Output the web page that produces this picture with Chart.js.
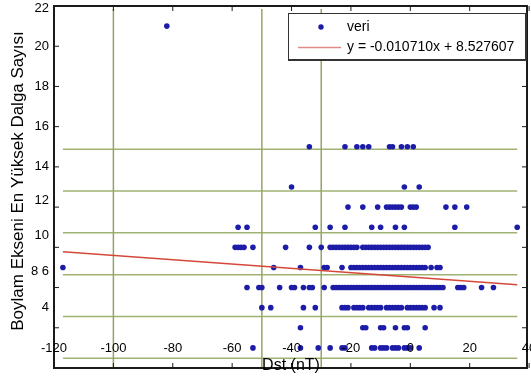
<!DOCTYPE html>
<html>
<head>
<meta charset="utf-8">
<script src="https://cdn.jsdelivr.net/npm/chart.js@4"></script>
<style>
  html, body { margin: 0; padding: 0; background: #fff; }
</style>
</head>
<body>
<canvas id="dalgaGrafik" width="531" height="381"></canvas>
<script>
// dalga sayısı seviyeleri ve her seviyedeki Dst (nT) değerleri
const dalgaSayilari = [21, 15, 13, 12, 11, 10, 9, 8, 7, 6, 5];
const dstDegerleri = [
  [-82],
  [-34, -22, -18, -16, -14, -7, -6, -3, -1, 1],
  [-40, -2, 3],
  [-21, -16, -11, -8, -7, -6, -5, -4, -3, 0, 1, 2, 12, 15, 19],
  [-58, -55, -32, -27, -22, -13, -10, -5, -2, 15, 36],
  [-59, -58, -57, -56, -53, -42, -34, -30, -27, -26, -25, -24, -23, -22, -21, -20, -19, -18, -16, -15, -14, -13, -12, -11, -10, -9, -8, -7, -6, -5, -4, -3, -2, -1, 0, 1, 2, 3, 4, 5, 6],
  [-117, -46, -37, -29, -28, -23, -20, -19, -18, -17, -16, -15, -14, -13, -12, -11, -10, -9, -8, -7, -6, -5, -4, -3, -2, -1, 0, 1, 2, 3, 4, 5, 7, 9, 10],
  [-55, -51, -50, -44, -40, -39, -36, -34, -33, -29, -26, -25, -24, -23, -22, -21, -20, -19, -18, -17, -16, -15, -14, -13, -12, -11, -10, -9, -8, -7, -6, -5, -4, -3, -2, -1, 0, 1, 2, 3, 4, 5, 6, 7, 8, 9, 10, 11, 16, 17, 18, 24, 28],
  [-50, -47, -36, -32, -23, -22, -21, -19, -18, -17, -16, -14, -13, -12, -11, -10, -8, -7, -6, -5, -4, -3, -1, 0, 1, 2, 3, 4, 5, 8, 10],
  [-37, -16, -15, -10, -9, -5, -2, -1, 5],
  [-53, -37, -31, -27, -23, -22, -13, -12, -10, -9, -8, -6, -5, -4, -2, -1, 0, 3]
];

// doğrusal uydurma: y = a*x + b
const egim = -0.010710;
const kesisim = 8.527607;

// eksen etiketleri
const xEtiketleri = [-120, -100, -80, -60, -40, -20, 0, 20, 40];
const yEtiketleri = ['22', '20', '18', '16', '14', '12', '10', '8 6', '4'];
const yEtiketYerleri = [21.9, 20, 18, 16, 14, 12.35, 10.6, 8.8, 7.0];

// yeşil ızgara çizgileri (veri biriminde)
const izgaraX = [-100, -50, -30];
const izgaraY = [14.88, 12.8, 10.72, 8.64, 6.56, 4.48];

const noktalar = [];
dalgaSayilari.forEach((d, i) => {
  dstDegerleri[i].forEach(x => noktalar.push({ x: x, y: d }));
});
const tumDst = noktalar.map(p => p.x);
const xMin = Math.min(...tumDst);
const xMax = Math.max(...tumDst);

const yaziTipi = '"Liberation Sans", Arial, sans-serif';

function cizgi(ctx, x1, y1, x2, y2) {
  ctx.beginPath();
  ctx.moveTo(x1, y1);
  ctx.lineTo(x2, y2);
  ctx.stroke();
}

const eksenCizimi = {
  id: 'eksenCizimi',
  beforeDatasetsDraw(chart) {
    const { ctx, scales: { x, y } } = chart;
    ctx.save();
    ctx.strokeStyle = '#a0b272';
    ctx.lineWidth = 1.5;
    izgaraY.forEach(v => {
      const py = y.getPixelForValue(v);
      cizgi(ctx, x.getPixelForValue(xMin), py, x.getPixelForValue(xMax), py);
    });
    ctx.strokeStyle = '#93a563';
    izgaraX.forEach(v => {
      const px = x.getPixelForValue(v);
      cizgi(ctx, px, y.getPixelForValue(21.85), px, y.bottom);
    });
    ctx.restore();
  },
  afterDatasetsDraw(chart) {
    const { ctx, chartArea: a, scales: { x, y } } = chart;
    ctx.save();

    // çerçeve
    ctx.strokeStyle = '#1a1a1a';
    ctx.lineWidth = 2;
    ctx.strokeRect(a.left, a.top, a.right - a.left, a.bottom - a.top);

    // tik işaretleri
    ctx.lineWidth = 1;
    for (let v = 4; v <= 22; v += 2) {
      const py = y.getPixelForValue(v);
      cizgi(ctx, a.left, py, a.left + 5, py);
      cizgi(ctx, a.right, py, a.right - 5, py);
    }
    xEtiketleri.forEach(v => {
      const px = x.getPixelForValue(v);
      cizgi(ctx, px, a.top, px, a.top + 5);
      cizgi(ctx, px, a.bottom, px, a.bottom - 5);
    });

    // tik yazıları
    ctx.fillStyle = '#000';
    ctx.font = '13px ' + yaziTipi;
    ctx.textBaseline = 'middle';
    ctx.textAlign = 'right';
    yEtiketleri.forEach((t, i) => {
      ctx.fillText(t, a.left - 5, y.getPixelForValue(yEtiketYerleri[i]));
    });
    ctx.textAlign = 'center';
    xEtiketleri.forEach(v => {
      ctx.fillText(String(v), x.getPixelForValue(v), a.bottom - 20);
    });

    // eksen başlıkları
    ctx.font = '16px ' + yaziTipi;
    ctx.fillText('Dst (nT)', 291, a.bottom - 2);
    ctx.save();
    ctx.translate(18, 181);
    ctx.rotate(-Math.PI / 2);
    ctx.font = '17px ' + yaziTipi;
    ctx.fillText('Boylam Ekseni En Yüksek Dalga Sayısı', 0, 0);
    ctx.restore();

    // açıklama kutusu
    const ds = chart.data.datasets;
    ctx.fillStyle = '#fff';
    ctx.fillRect(288, 13, 238, 47);
    ctx.strokeStyle = '#333';
    ctx.lineWidth = 1;
    ctx.strokeRect(288.5, 13.5, 237, 46);
    ctx.lineWidth = 2;
    cizgi(ctx, 526, 13, 526, 61);
    cizgi(ctx, 288, 60, 527, 60);

    ctx.fillStyle = ds[0].backgroundColor;
    ctx.beginPath();
    ctx.arc(321, 27, 2.7, 0, Math.PI * 2);
    ctx.fill();
    ctx.strokeStyle = '#e08a8a';
    ctx.lineWidth = 1.5;
    cizgi(ctx, 298, 47.5, 341, 47.5);

    ctx.fillStyle = '#000';
    ctx.font = '14px ' + yaziTipi;
    ctx.textAlign = 'left';
    ctx.fillText(ds[0].label, 347, 27);
    ctx.fillText(ds[1].label, 347, 47);
    ctx.restore();
  }
};

const config = {
  type: 'scatter',
  data: {
    datasets: [
      {
        label: 'veri',
        data: noktalar,
        backgroundColor: '#1c1ca8',
        pointRadius: 2.8,
        borderWidth: 0,
        order: 2
      },
      {
        label: 'y = -0.010710x + 8.527607',
        type: 'line',
        data: [
          { x: xMin, y: egim * xMin + kesisim },
          { x: xMax, y: egim * xMax + kesisim }
        ],
        borderColor: '#d4483a',
        borderWidth: 1.5,
        pointRadius: 0,
        fill: false,
        order: 1
      }
    ]
  },
  options: {
    responsive: false,
    animation: false,
    layout: { padding: { left: 54, right: 2, top: 6, bottom: 13 } },
    scales: {
      x: { type: 'linear', min: -120, max: 39.3, display: false },
      y: { type: 'linear', min: 4, max: 22, display: false }
    },
    plugins: {
      legend: { display: false },
      tooltip: { enabled: false }
    }
  },
  plugins: [eksenCizimi]
};

const grafik = new Chart(document.getElementById('dalgaGrafik'), config);
</script>
</body>
</html>
